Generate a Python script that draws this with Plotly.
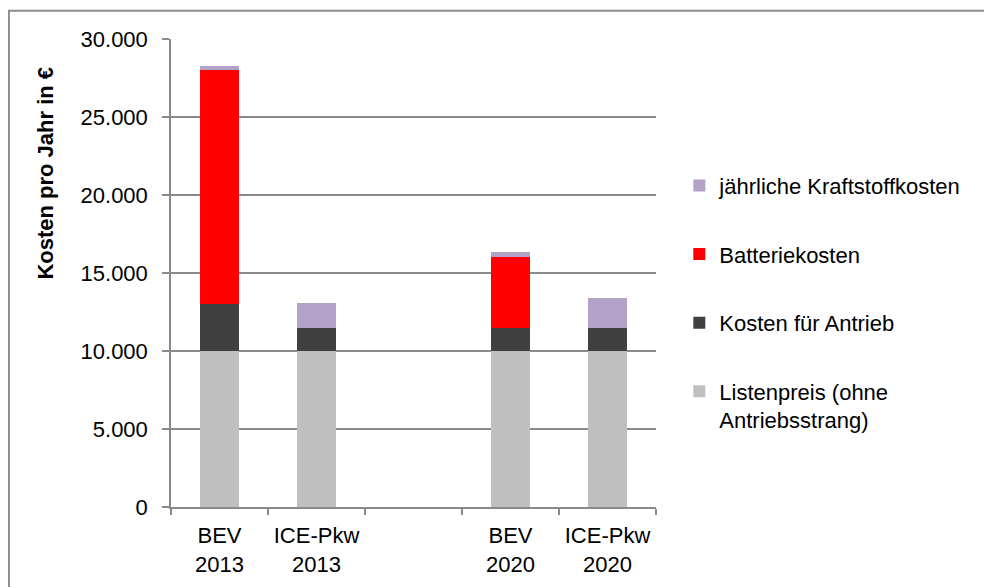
import plotly.graph_objects as go

categories = ["BEV<br>2013", "ICE-Pkw<br>2013", " ", "BEV<br>2020", "ICE-Pkw<br>2020"]
listenpreis = [10000, 10000, None, 10000, 10000]
antrieb = [3000, 1500, None, 1500, 1500]
batterie = [15000, 0, None, 4500, 0]
kraftstoff = [250, 1550, None, 350, 1900]

series = [
    ("Listenpreis (ohne<br>Antriebsstrang)", listenpreis, "#BFBFBF", 4),
    ("Kosten für Antrieb", antrieb, "#404040", 3),
    ("Batteriekosten", batterie, "#FF0000", 2),
    ("jährliche Kraftstoffkosten", kraftstoff, "#B3A2C7", 1),
]

W, H = 992, 587
OFF = 8  # page body margin
# plot area in screen pixels
SL, SR, ST, SB = 171, 655.7, 39.3, 507.3
L, R, T, B = SL - OFF, SR - OFF, ST - OFF, SB - OFF

fig = go.Figure()
for i, (name, vals, color, rank) in enumerate(series):
    fig.add_trace(go.Bar(
        x=categories, y=vals, name=name,
        marker=dict(color=color, line=dict(width=0)),
        legendgroup=str(i), legendrank=rank,
    ))

font = "Liberation Sans, Arial, sans-serif"
FS = 22

def px(x):
    return (x - SL) / (SR - SL)

def py(y):
    return (SB - y) / (SB - ST)

fig.update_layout(
    width=W, height=H,
    margin=dict(l=L, r=W - R, t=T, b=H - B, pad=0),
    paper_bgcolor="white", plot_bgcolor="white",
    barmode="stack", bargap=0.6,
    separators=",.",
    font=dict(family=font, size=FS, color="black"),
    showlegend=True,
    legend=dict(
        x=px(679), y=py(165), xanchor="left", yanchor="top",
        traceorder="grouped", tracegroupgap=37,
        valign="top",
        font=dict(family=font, size=FS, color="black"),
        bgcolor="rgba(0,0,0,0)",
    ),
    xaxis=dict(
        type="category", categoryorder="array", categoryarray=categories,
        range=[-0.5, 4.5],
        showline=True, linecolor="#8a8a8a", linewidth=1.5,
        ticks="outside", tickson="boundaries", ticklen=6, tickcolor="#8a8a8a", tickwidth=1.5,
        showgrid=False, tickfont=dict(size=FS),
        ticklabelstandoff=8,
    ),
    yaxis=dict(
        range=[0, 30000], dtick=5000, tickformat=",d",
        showline=True, linecolor="#8a8a8a", linewidth=1.5,
        ticks="outside", ticklen=7, tickcolor="#8a8a8a", tickwidth=1.5,
        showgrid=True, gridcolor="#8a8a8a", gridwidth=1.5,
        zeroline=False, tickfont=dict(size=FS),
        ticklabelstandoff=10,
    ),
    shapes=[dict(
        type="rect", xref="paper", yref="paper",
        x0=px(9), x1=px(1010), y0=py(620), y1=py(11),
        line=dict(color="#8c8c8c", width=2), fillcolor="rgba(0,0,0,0)", layer="below",
    )],
    annotations=[dict(
        text="<b>Kosten pro Jahr in €</b>", xref="paper", yref="paper",
        x=px(46), y=py(173), xanchor="center", yanchor="middle",
        textangle=-90, showarrow=False,
        font=dict(family=font, size=FS, color="black"),
    )],
)

fig.write_html("out.html")
